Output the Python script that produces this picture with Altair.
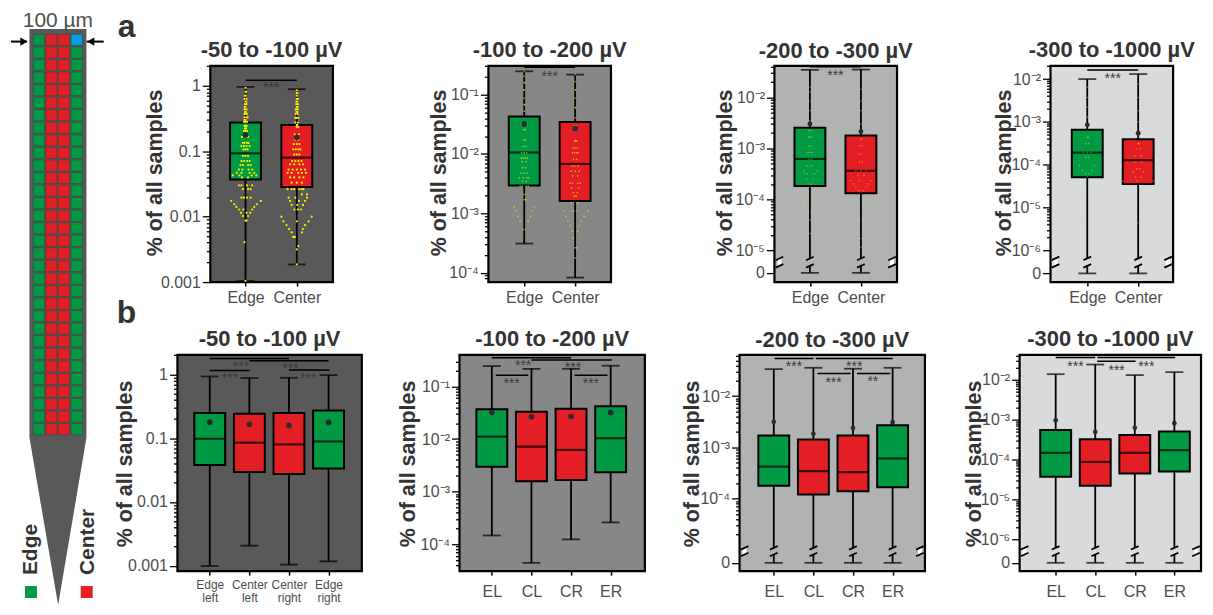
import altair as alt
import pandas as pd
import math

FONT = "Liberation Sans"
GREEN = "#009a44"
RED = "#e31e24"
BLUE = "#00a0e3"
YELLOW = "#ffec00"
TEXT = "#4d4d4d"
TITLE = "#333333"

# ---------- probe schematic ----------
shank_x = [28.5, 57.3, 85.7]
shank_top = [28, 28, 28]
shank_bottom = [438, 606, 438]
probe_columns = [38.0, 50.5, 63.0, 76.0]
probe_rows = 32
probe_first_row = 39.0
probe_row_step = 12.6
legend_squares_x = [30, 86]
legend_squares_c = [GREEN, RED]

# ---------- panel a: box statistics ----------
a1_high = [0.965, 0.889]; a1_q3 = [0.275, 0.253]; a1_med = [0.093, 0.08]; a1_q1 = [0.037, 0.0284]; a1_low = [0.00104, 0.00186]; a1_mean = [0.178, 0.164]
a2_high = [0.247, 0.217]; a2_q3 = [0.0426, 0.0347]; a2_med = [0.0106, 0.0068]; a2_q1 = [0.00295, 0.00161]; a2_low = [0.00031, 0.000083]; a2_mean = [0.032, 0.0269]
a3_high = [0.0347, 0.0352]; a3_q3 = [0.00255, 0.00178]; a3_med = [0.00062, 0.000363]; a3_q1 = [0.000182, 0.000132]; a3_low = [0, 0]; a3_mean = [0.003, 0.00214]
a4_high = [0.01, 0.0131]; a4_q3 = [0.00065, 0.00039]; a4_med = [0.00019, 0.000127]; a4_q1 = [0.000051, 0.000035]; a4_low = [0, 0]; a4_mean = [0.00085, 0.00054]

# ---------- panel b: box statistics ----------
b1_high = [0.93, 0.877, 0.887, 0.976]; b1_q3 = [0.248, 0.242, 0.248, 0.273]; b1_med = [0.098, 0.085, 0.08, 0.089]; b1_q1 = [0.038, 0.0296, 0.0275, 0.0334]; b1_low = [0.00099, 0.00206, 0.00104, 0.00117]; b1_mean = [0.179, 0.165, 0.159, 0.177]
b2_high = [0.244, 0.217, 0.217, 0.248]; b2_q3 = [0.037, 0.0329, 0.0375, 0.0422]; b2_med = [0.0111, 0.00718, 0.0062, 0.01035]; b2_q1 = [0.00298, 0.00157, 0.00166, 0.00232]; b2_low = [0.000146, 0.000044, 0.000123, 0.000259]; b2_mean = [0.0319, 0.0264, 0.0268, 0.0319]
b3_high = [0.0337, 0.0358, 0.0344, 0.0358]; b3_q3 = [0.0017, 0.00142, 0.0017, 0.00271]; b3_med = [0.00042, 0.000342, 0.000327, 0.000605]; b3_q1 = [0.000177, 0.00012, 0.000139, 0.000167]; b3_low = [0, 0, 0, 0]; b3_mean = [0.00315, 0.00184, 0.0024, 0.0031]
b4_high = [0.0136, 0.0237, 0.0129, 0.0153]; b4_q3 = [0.00055, 0.00032, 0.00041, 0.0005]; b4_med = [0.000147, 0.000087, 0.000147, 0.000171]; b4_q1 = [0.000037, 0.000022, 0.000045, 0.00005]; b4_low = [0, 0, 0, 0]; b4_mean = [0.00096, 0.00049, 0.00062, 0.00081]

# ---------- swarm points: (log10 of % of samples, sideways offsets) ----------
a1_swarm_edge = [(-.03,[0]),(-.09,[0,.01]),(-.15,[0,-.01]),(-.2,[-.02,.02]),(-.24,[0,.015]),(-.28,[.01,-.01,.02]),(-.32,[0,-.015]),(-.36,[0,.02,-.02]),(-.4,[.01,-.01]),(-.43,[0,.03,-.02]),(-.48,[-.02,.02,.04]),(-.52,[0,-.015]),(-.55,[0,.03,-.03]),(-.61,[.02,-.02,0]),(-.65,[.01,-.01]),(-.69,[0,-.03,.03]),(-.78,[-.07,.05,.02]),(-.87,[-.05,-.02,.03,.06]),(-.92,[-.08,-.03,.02,.08]),(-.97,[-.04,0,.04]),(-1.07,[-.05,0,.05]),(-1.15,[-.08,-.03,.03,.08]),(-1.21,[-.1,-.05,.05,.1]),(-1.28,[-.13,-.06,.06,.13]),(-1.33,[-.17,-.08,.08,.17]),(-1.37,[-.25,-.12,.12,.21]),(-1.4,[-.07,.05]),(-1.52,[-.13,-.08,.03,.13]),(-1.58,[-.05,.05,.1]),(-1.71,[-.08,-.03,.03,.1]),(-1.76,[-.28,.3]),(-1.81,[-.22,.22]),(-1.85,[-.18,.17]),(-1.89,[-.13,-.04,.13]),(-1.94,[-.09,.09,.02]),(-1.99,[-.05,.05]),(-2.06,[0,.02]),(-2.39,[-.02]),(-2.98,[0])]
a1_swarm_center = [(-.07,[0]),(-.11,[0,.01]),(-.15,[0]),(-.2,[0,.02]),(-.24,[-.01,.01]),(-.28,[-.01,.02]),(-.32,[0,.015]),(-.36,[0,-.02,.02]),(-.4,[.01,-.01]),(-.43,[.02,-.02]),(-.49,[0,.03,-.03]),(-.56,[.02,-.03]),(-.6,[0,.01]),(-.63,[0,.03]),(-.74,[-.04,.04]),(-.82,[-.03,.03]),(-.89,[-.06,0,.05]),(-.97,[-.07,-.02,.03,.07]),(-1.05,[-.05,0,.05]),(-1.15,[-.09,-.03,.03,.09]),(-1.2,[-.13,-.05,.05,.12]),(-1.28,[-.16,-.08,0,.08,.16]),(-1.33,[-.18,-.1,.03,.1,.18]),(-1.4,[-.13,-.05,.05,.13]),(-1.48,[-.1,0,.1]),(-1.58,[-.18,-.1,-.05,.05,.1,.13]),(-1.66,[.1,.2]),(-1.71,[-.16,-.03,.2]),(-1.76,[-.13,.04,.16]),(-1.82,[-.1,.01,.12]),(-1.89,[-.05,.02,.08]),(-2.0,[-.3,.29]),(-2.07,[-.26,.23,0]),(-2.13,[-.2,.16]),(-2.19,[-.15,.12]),(-2.24,[-.1,.1]),(-2.31,[-.07,-.04]),(-2.45,[.03]),(-2.5,[0]),(-2.73,[0])]
a2_swarm_edge = [(-.61,[0]),(-.69,[0]),(-.8,[0,.01]),(-.92,[0,-.01]),(-1.06,[0]),(-1.17,[0,.01]),(-1.28,[0]),(-1.5,[-.05,.05,0]),(-1.59,[-.01,.02]),(-1.76,[0,.02]),(-1.87,[-.02,.03]),(-1.98,[-.05,0,.05]),(-2.07,[-.06,-.02,.02,.06]),(-2.13,[-.04,.04]),(-2.23,[-.03,.03]),(-2.32,[-.06,0,.06]),(-2.4,[-.1,-.02,.05,.09]),(-2.46,[-.03,.04]),(-2.54,[-.08,-.04,.04,.08]),(-2.68,[-.02,.02]),(-2.77,[0,.03]),(-2.89,[-.2,.2]),(-2.96,[-.16,.16]),(-3.05,[-.12,.12]),(-3.13,[-.08,.08]),(-3.27,[-.03,.02])]
a2_swarm_center = [(-.66,[0]),(-.78,[0]),(-.92,[0,.01]),(-1.06,[0]),(-1.22,[0,.01]),(-1.39,[0]),(-1.53,[-.02,.02]),(-1.78,[-.01,.01,.03]),(-1.9,[-.04,0,.04]),(-1.98,[-.05,-.01,.03,.06]),(-2.09,[-.03,.03]),(-2.2,[-.06,-.01,.06]),(-2.29,[-.08,0,.08]),(-2.37,[-.05,.05]),(-2.49,[-.1,-.05,.05,.1]),(-2.57,[-.07,.07]),(-2.65,[-.04,.04]),(-2.71,[-.02,.02]),(-2.82,[-.08,.05]),(-2.96,[-.22,-.05,.02,.25]),(-3.05,[-.18,.18]),(-3.13,[-.14,.12]),(-3.21,[-.1,.08]),(-3.3,[-.06,.05]),(-3.41,[-.04]),(-3.58,[.03,0]),(-3.75,[0])]
a3_swarm_edge = [(-1.8,[0]),(-1.9,[0]),(-2.07,[0]),(-2.26,[0]),(-2.46,[0]),(-2.65,[-.02,.02]),(-2.78,[-.03,.03,0]),(-2.95,[-.02,.02]),(-3.08,[-.04,0,.04]),(-3.21,[-.02,.03]),(-3.34,[-.05,.05,0]),(-3.44,[-.12,.14]),(-3.5,[-.1,-.05,.05,.1]),(-3.6,[-.06,.06]),(-3.7,[-.03,.03]),(-3.83,[-.24,.26]),(-3.92,[-.2,.2]),(-4.02,[-.14,.14]),(-4.12,[-.1,.08]),(-4.25,[-.03,.03]),(-4.41,[0]),(-4.67,[0])]
a3_swarm_center = [(-1.84,[0]),(-2.07,[0]),(-2.26,[0]),(-2.52,[0]),(-2.82,[0,.02]),(-2.95,[-.02,.02]),(-3.11,[-.04,.01]),(-3.27,[-.03,.03]),(-3.44,[-.1,0,.1]),(-3.53,[-.06,.06]),(-3.63,[-.2,-.03,.2]),(-3.7,[-.14,.14]),(-3.76,[-.1,.1]),(-3.83,[-.04,.04]),(-3.92,[-.27,.27]),(-4.02,[-.2,.18]),(-4.12,[-.12,.12]),(-4.22,[-.06,.08]),(-4.41,[-.04,.03]),(-4.77,[-.02,.03]),(-4.94,[0])]
a4_swarm_edge = [(-2.19,[0]),(-2.43,[0]),(-2.66,[0]),(-2.89,[0]),(-3.09,[-.07,.07]),(-3.36,[0,.02]),(-3.51,[-.03,.03]),(-3.71,[-.08,0,.08]),(-3.83,[-.03,.03]),(-4.02,[-.15,.15]),(-4.14,[-.09,.09]),(-4.21,[-.03,.03]),(-4.29,[0]),(-4.35,[-.28,.27]),(-4.52,[-.2,.2]),(-4.66,[-.12,.12]),(-4.87,[-.05,.05]),(-5.15,[.05]),(-5.36,[-.03,.03])]
a4_swarm_center = [(-2.12,[0]),(-2.43,[0]),(-2.74,[0]),(-3.0,[0]),(-3.2,[-.07,.07]),(-3.51,[0,.02]),(-3.63,[-.04,.04]),(-3.79,[-.06,.06]),(-3.94,[-.07,.07]),(-4.1,[-.03,.03]),(-4.17,[-.1,.1]),(-4.29,[-.05,.05]),(-4.38,[-.3,-.02,.3]),(-4.52,[-.22,.2]),(-4.64,[-.15,.15]),(-4.83,[-.06,.1]),(-4.99,[.05,-.03]),(-5.36,[-.02,.02])]

# ---------- significance brackets: (from, to, level) and stars: (x, level, text) ----------
a1_bars = [(1, 2, 1.22)]; a1_stars = [(1.5, 1.07, "***")]
a2_bars = [(1, 2, 0.288)]; a2_stars = [(1.5, 0.234, "***")]
a3_bars = [(1, 2, 0.0398)]; a3_stars = [(1.5, 0.0308, "***")]
a4_bars = [(1, 2, 0.0164)]; a4_stars = [(1.5, 0.0126, "***")]
b1_bars = [(1, 3, 1.78), (2, 4, 1.64), (1, 2.02, 1.155), (3, 4.03, 1.18)]
b1_stars = [(1.79, 1.5, "***"), (1.51, 0.99, "***"), (3.04, 1.42, "***"), (3.49, 0.99, "***")]
b2_bars = [(1, 3, 0.352), (2, 4.03, 0.318), (1.1, 1.92, 0.164), (3.09, 3.92, 0.164)]
b2_stars = [(1.79, 0.287, "***"), (1.5, 0.134, "***"), (3.05, 0.263, "***"), (3.5, 0.134, "***")]
b3_bars = [(1.02, 2, 0.0545), (2.06, 4, 0.0545), (2.1, 2.94, 0.0277), (3.1, 3.94, 0.0277)]
b3_stars = [(1.51, 0.0434, "***"), (3.03, 0.0434, "***"), (2.51, 0.0219, "***"), (3.5, 0.0228, "**")]
b4_bars = [(1, 2, 0.0355), (2.05, 4.02, 0.0355), (2.05, 3.02, 0.0288)]
b4_stars = [(1.5, 0.0261, "***"), (2.54, 0.0211, "***"), (3.29, 0.0261, "***")]

TWO = ["Edge", "Center"]
FOUR = ["EL", "CL", "CR", "ER"]
FOUR_LONG = [["Edge", "left"], ["Center", "left"], ["Center", "right"], ["Edge", "right"]]
COL2 = [GREEN, RED]
COL4 = [GREEN, RED, RED, GREEN]


def ylabel(v, style):
    if style == "plain":
        return {1: "1", 0.1: "0.1", 0.01: "0.01", 0.001: "0.001"}[v]
    sup = str.maketrans("-0123456789", "⁻⁰¹²³⁴⁵⁶⁷⁸⁹")
    return "10" + str(round(math.log10(v))).translate(sup)


def spacer(w, lift=0):
    return alt.Chart(pd.DataFrame({"t": [""]})).mark_point(opacity=0, size=1).encode(x=alt.value(0), y=alt.value(-lift)).properties(
        width=w, height=10, view=alt.ViewBackground(stroke="transparent"))


def panel(title, bg, stats, cols, labels, x_first, x_step, width, ylog, zero_log, tick_min, style,
          bars, stars, swarm=None, swarm_opacity=1.0, swarm_size=5, breaks=None, title_x=-50, title_y=108,
          label_size=16, label_pad=3, label_line=14, mean_size=32, title_offset=-4):
    high, q3, med, q1, low, mean = stats
    n = len(high)
    xs = [i + 1 for i in range(n)]
    zero = 10 ** zero_log if zero_log is not None else None
    low2 = [zero if v == 0 else v for v in low]
    df = pd.DataFrame({"x": xs, "high": high, "q3": q3, "med": med, "q1": q1, "low": low2, "mean": mean, "c": cols})
    xdom = [1 - x_first / x_step, 1 - x_first / x_step + width / x_step]
    ydom = [10 ** ylog[0], 10 ** ylog[1]]
    xs_scale = alt.Scale(domain=xdom, nice=False, zero=False)
    ys_scale = alt.Scale(type="log", domain=ydom, nice=False, base=10)

    ticks, major = [], []
    for d in range(-7, 1):
        for m in range(1, 10):
            v = m * 10.0 ** d
            if 10 ** tick_min * 0.999 <= v <= ydom[1]:
                ticks.append(float(f"{v:.10g}"))
                if m == 1:
                    major.append(float(f"{v:.10g}"))
    expr = "''"
    for v in major:
        expr = f"abs(datum.value/{v}-1)<0.001 ? '{ylabel(v, style)}' : {expr}"
    test = "||".join(f"abs(datum.value/{v}-1)<0.001" for v in major)
    if zero is not None:
        ticks.append(zero)
        expr = f"abs(datum.value/{zero}-1)<0.001 ? '0' : {expr}"
        test += f"||abs(datum.value/{zero}-1)<0.001"

    if isinstance(labels[0], list):
        arr = "[" + ",".join("['%s','%s']" % (a, b) for a, b in labels) + "]"
    else:
        arr = "[" + ",".join("'%s'" % a for a in labels) + "]"
    xaxis = alt.Axis(values=xs, labelExpr=f"{arr}[datum.value-1]", title=None, grid=False, domain=False,
                     tickColor="black", tickWidth=1.5, tickSize=4, labelFont=FONT, labelFontSize=label_size,
                     labelColor=TEXT, labelPadding=label_pad, labelAngle=0, labelLineHeight=label_line, labelFlush=False,
                     labelOverlap=False, labelBaseline="top")
    yaxis = alt.Axis(values=ticks, labelExpr=expr, title="% of all samples", grid=False, domain=False,
                     tickColor="black", tickWidth=1.3,
                     tickSize={"condition": {"test": test, "value": 8}, "value": 4},
                     labelFont=FONT, labelFontSize=16, labelColor=TEXT, labelPadding=2, labelOverlap=False,
                     labelFlush=False, titleFont=FONT, titleFontSize=21.5, titleFontWeight="bold", titleColor=TITLE,
                     titleX=title_x, titleY=title_y, titleAngle=-90, titleAlign="center", titleBaseline="middle")

    X = lambda f="x": alt.X(f"{f}:Q", scale=xs_scale, axis=xaxis)
    Y = lambda f: alt.Y(f"{f}:Q", scale=ys_scale, axis=yaxis)

    base = alt.Chart(df)
    layers = [
        base.mark_rule(color="black", strokeWidth=1.8).encode(x=X(), y=Y("low"), y2=alt.Y2("high")),
        base.mark_tick(color="black", size=18, thickness=1.8, orient="horizontal").encode(x=X(), y=Y("high")),
        base.mark_tick(color="black", size=18, thickness=1.8, orient="horizontal").encode(x=X(), y=Y("low")),
        base.mark_bar(size=31, stroke="black", strokeWidth=2).encode(
            x=X(), y=Y("q1"), y2=alt.Y2("q3"), color=alt.Color("c:N", scale=None, legend=None)),
        base.mark_tick(color="black", size=31, thickness=2.2, orient="horizontal").encode(x=X(), y=Y("med")),
    ]
    if swarm:
        rows = []
        for i, group in enumerate(swarm):
            for lg, offs in group:
                for o in offs:
                    rows.append({"x": i + 1 + o, "v": 10 ** lg})
        layers.append(alt.Chart(pd.DataFrame(rows)).mark_circle(color=YELLOW, opacity=swarm_opacity, size=swarm_size).encode(x=X(), y=Y("v")))
    layers.append(base.mark_circle(color="#2b2b2b", opacity=1, size=mean_size).encode(x=X(), y=Y("mean")))

    if breaks:
        b_hi, b_lo = 10 ** breaks[0], 10 ** breaks[1]
        bd = pd.DataFrame({"x": xs, "hi": [b_hi] * n, "lo": [b_lo] * n})
        ed = pd.DataFrame({"x": xdom, "hi": [b_hi] * 2, "lo": [b_lo] * 2})
        sl = pd.DataFrame({"x": xs * 2 + xdom * 2,
                           "y": [b_hi] * n + [b_lo] * n + [b_hi] * 2 + [b_lo] * 2})
        layers += [
            alt.Chart(bd).mark_rule(color=bg, strokeWidth=4).encode(x=X(), y=Y("hi"), y2=alt.Y2("lo")),
            alt.Chart(ed).mark_rule(color="white", strokeWidth=4).encode(x=X(), y=Y("hi"), y2=alt.Y2("lo")),
            alt.Chart(sl).mark_point(shape="M-1,0.45L1,-0.45", size=60, filled=False, stroke="black", strokeWidth=1.8, opacity=1).encode(x=X(), y=Y("y")),
        ]
    bdf = pd.DataFrame([{"a": a, "b": b, "y": y} for a, b, y in bars])
    sdf = pd.DataFrame([{"x": a, "y": y, "t": t} for a, y, t in stars])
    layers += [
        alt.Chart(bdf).mark_rule(color="black", strokeWidth=1.5).encode(x=X("a"), x2=alt.X2("b"), y=Y("y")),
        alt.Chart(sdf).mark_text(font=FONT, fontSize=14, color="#3a3a3a", baseline="middle", dy=4).encode(x=X(), y=Y("y"), text="t:N"),
    ]
    return alt.layer(*layers).properties(
        width=width, height=217,
        title=alt.TitleParams(title, font=FONT, fontSize=22, fontWeight="bold", color=TITLE, offset=title_offset, anchor="middle"),
        view=alt.ViewBackground(fill=bg, stroke="black", strokeWidth=2.2),
    )


BG = ["#595959", "#878787", "#b1b3b3", "#d8dadb"]
TITLES = ["-50 to -100 µV", "-100 to -200 µV", "-200 to -300 µV", "-300 to -1000 µV"]

a1 = panel(TITLES[0], BG[0], (a1_high, a1_q3, a1_med, a1_q1, a1_low, a1_mean), COL2, TWO, 33, 56, 123,
           (-3, 0.307), None, -3, "plain", a1_bars, a1_stars, swarm=(a1_swarm_edge, a1_swarm_center), swarm_size=5, title_x=-55, title_y=107)
a2 = panel(TITLES[1], BG[1], (a2_high, a2_q3, a2_med, a2_q1, a2_low, a2_mean), COL2, TWO, 33.7, 55.6, 123,
           (-4.157, -0.515), None, -4.15, "pow", a2_bars, a2_stars, swarm=(a2_swarm_edge, a2_swarm_center), swarm_opacity=0.6, swarm_size=3, title_x=-49, title_y=107)
a3 = panel(TITLES[2], BG[2], (a3_high, a3_q3, a3_med, a3_q1, a3_low, a3_mean), COL2, TWO, 33.3, 55.7, 123,
           (-5.625, -1.38), -5.443, -5, "pow", a3_bars, a3_stars, swarm=(a3_swarm_edge, a3_swarm_center), swarm_opacity=0.45, swarm_size=2.5,
           breaks=(-5.162, -5.307), title_x=-49, title_y=107, mean_size=24)
a4 = panel(TITLES[3], BG[3], (a4_high, a4_q3, a4_med, a4_q1, a4_low, a4_mean), COL2, TWO, 34.7, 55.6, 123,
           (-6.746, -1.69), -6.543, -6, "pow", a4_bars, a4_stars, swarm=(a4_swarm_edge, a4_swarm_center), swarm_opacity=0.45, swarm_size=2.5,
           breaks=(-6.193, -6.366), title_x=-46, title_y=107, mean_size=24)
b1 = panel(TITLES[0], BG[0], (b1_high, b1_q3, b1_med, b1_q1, b1_low, b1_mean), COL4, FOUR_LONG, 29, 42, 185,
           (-3.085, 0.308), None, -3, "plain", b1_bars, b1_stars, title_x=-52, title_y=109, label_size=12, label_pad=4, label_line=13)
b2 = panel(TITLES[1], BG[1], (b2_high, b2_q3, b2_med, b2_q1, b2_low, b2_mean), COL4, FOUR, 29, 42, 186,
           (-4.514, -0.398), None, -4.51, "pow", b2_bars, b2_stars, title_x=-51, title_y=109, label_pad=8, title_offset=2)
b3 = panel(TITLES[2], BG[2], (b3_high, b3_q3, b3_med, b3_q1, b3_low, b3_mean), COL4, FOUR, 31, 42, 186,
           (-5.418, -1.193), -5.256, -4.7, "pow", b3_bars, b3_stars, breaks=(-4.963, -5.094), title_x=-47, title_y=109, label_pad=8, mean_size=22)
b4 = panel(TITLES[3], BG[3], (b4_high, b4_q3, b4_med, b4_q1, b4_low, b4_mean), COL4, FOUR, 33, 42, 182,
           (-6.79, -1.383), -6.5825, -6, "pow", b4_bars, b4_stars, breaks=(-6.2075, -6.375), title_x=-45, title_y=109, label_pad=8, mean_size=22)

row1 = alt.hconcat(spacer(102, 56), a1, spacer(156), a2, spacer(164), a3, spacer(154), a4, spacing=0, bounds="flush")
row2 = alt.hconcat(spacer(69, 47), b1, spacer(98), b2, spacer(95), b3, spacer(95), b4, spacing=0, bounds="flush")

# ---------- probe ----------
PX = alt.Scale(domain=[8, 108], nice=False, zero=False)
PY = alt.Scale(domain=[606, 65], nice=False, zero=False)
shank = pd.DataFrame({"x": shank_x, "y": shank_top, "y2": shank_bottom})
cells = []
for r in range(probe_rows):
    for c, cx in enumerate(probe_columns):
        col = GREEN if c in (0, 3) else RED
        if r == 0 and c == 3:
            col = BLUE
        cy = probe_first_row + r * probe_row_step
        cells.append({"x": cx - 5.7, "x2": cx + 5.7, "y": cy - 5.6, "y2": cy + 5.6, "c": col})
cells = pd.DataFrame(cells)
sq = pd.DataFrame({"x": [v - 6 for v in legend_squares_x], "x2": [v + 6 for v in legend_squares_x], "y": [587, 587], "y2": [599, 599], "c": legend_squares_c})
ax = alt.X("x:Q", scale=PX, axis=None)
ay = alt.Y("y:Q", scale=PY, axis=None)
probe = alt.layer(
    alt.Chart(shank).mark_area(color="#595959", interpolate="linear", opacity=1).encode(x=ax, y=ay, y2=alt.Y2("y2")),
    alt.Chart(cells).mark_rect(stroke="#404040", strokeWidth=0.6).encode(x=ax, x2="x2:Q", y=ay, y2="y2:Q", color=alt.Color("c:N", scale=None, legend=None)),
    alt.Chart(sq).mark_rect().encode(x=ax, x2="x2:Q", y=ay, y2="y2:Q", color=alt.Color("c:N", scale=None, legend=None)),
    alt.Chart(pd.DataFrame({"x": [10, 86], "x2": [26, 103], "y": [40.7, 40.7]})).mark_rule(color="black", strokeWidth=2).encode(x=ax, x2="x2:Q", y=ay),
    alt.Chart(pd.DataFrame({"x": [23], "y": [40.7]})).mark_point(shape="triangle-right", filled=True, color="black", size=70, opacity=1).encode(x=ax, y=ay),
    alt.Chart(pd.DataFrame({"x": [90], "y": [40.7]})).mark_point(shape="triangle-left", filled=True, color="black", size=70, opacity=1).encode(x=ax, y=ay),
    alt.Chart(pd.DataFrame({"x": [57], "y": [20], "t": ["100 µm"]})).mark_text(font=FONT, fontSize=21, color=TEXT, baseline="middle").encode(x=ax, y=ay, text="t:N"),
    alt.Chart(pd.DataFrame({"x": [30, 87], "y": [576, 576], "t": ["Edge", "Center"]})).mark_text(font=FONT, fontSize=21, fontWeight="bold", color=TITLE, angle=270, align="left", baseline="middle").encode(x=ax, y=ay, text="t:N"),
    alt.Chart(pd.DataFrame({"x": [126, 126], "y": [36, 323], "t": ["a", "b"]})).mark_text(font=FONT, fontSize=32, fontWeight="bold", color=TITLE, baseline="alphabetic").encode(x=ax, y=ay, text="t:N"),
).properties(width=100, height=541, view=alt.ViewBackground(stroke="transparent"))

right = alt.vconcat(row1, row2, spacing=0)
chart = alt.hconcat(probe, right, spacing=0, bounds="flush").properties(padding=0, background="white").configure_view(stroke="transparent")
chart.save("out.html", embed_options={"renderer": "svg", "actions": False})
